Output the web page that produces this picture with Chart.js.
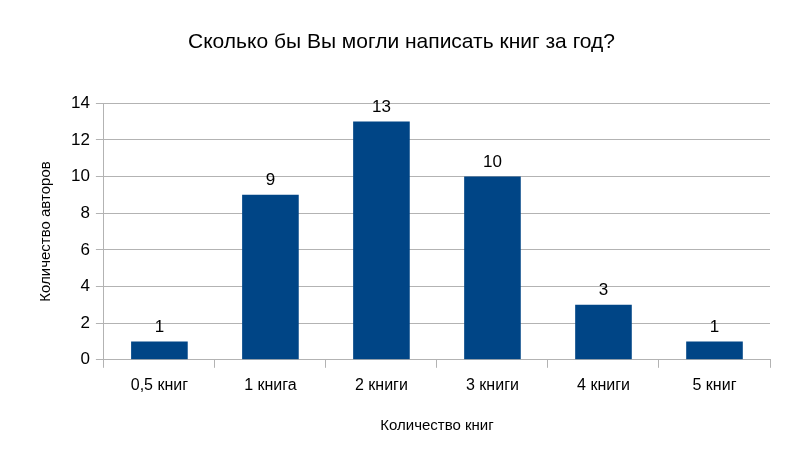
<!DOCTYPE html>
<html><head><meta charset="utf-8">
<script src="https://cdn.jsdelivr.net/npm/chart.js@4"></script>
<style>html,body{margin:0;background:#fff}#w{width:800px;height:465px}</style>
</head><body><div id="w"><canvas id="c"></canvas></div>
<script>
const categories = ["0,5 книг","1 книга","2 книги","3 книги","4 книги","5 книг"];
const values = [1,9,13,10,3,1];
const yTicks = [0,2,4,6,8,10,12,14];
const F = "'Liberation Sans', Arial, sans-serif";
const labelPlugin = {
  id:'lbl',
  afterDatasetsDraw(chart){
    const ctx = chart.ctx, meta = chart.getDatasetMeta(0);
    ctx.save(); ctx.font = "17px "+F; ctx.fillStyle="#000"; ctx.textAlign="center"; ctx.textBaseline="bottom";
    meta.data.forEach((b,i)=>ctx.fillText(String(values[i]), b.x, b.y-6));
    ctx.restore();
  }
};
new Chart(document.getElementById('c'),{
  type:'bar',
  data:{labels:categories,datasets:[{data:values,backgroundColor:'#004586',barPercentage:0.51,categoryPercentage:1}]},
  options:{
    responsive:true,maintainAspectRatio:false,animation:false,
    layout:{padding:{left:33,right:30,top:10,bottom:26}},
    plugins:{legend:{display:false},tooltip:{enabled:false},
      title:{display:true,text:'Сколько бы Вы могли написать книг за год?',color:'#000',font:{family:F,size:21,weight:'normal'},padding:{top:20,bottom:48}}},
    scales:{
      x:{grid:{offset:true,drawOnChartArea:false,tickLength:8,color:'#b3b3b3'},border:{color:'#b3b3b3'},
        ticks:{color:'#000',font:{family:F,size:16},padding:8},
        title:{display:true,text:'Количество книг',color:'#000',font:{family:F,size:15},padding:{top:14}}},
      y:{min:0,max:14,afterBuildTicks(s){s.ticks=yTicks.map(v=>({value:v}));},
        grid:{color:'#b3b3b3',tickLength:8},border:{color:'#b3b3b3'},
        ticks:{color:'#000',font:{family:F,size:17},padding:6},
        title:{display:true,text:'Количество авторов',color:'#000',font:{family:F,size:15},padding:{bottom:10}}}
    }
  },
  plugins:[labelPlugin]
});
</script></body></html>
